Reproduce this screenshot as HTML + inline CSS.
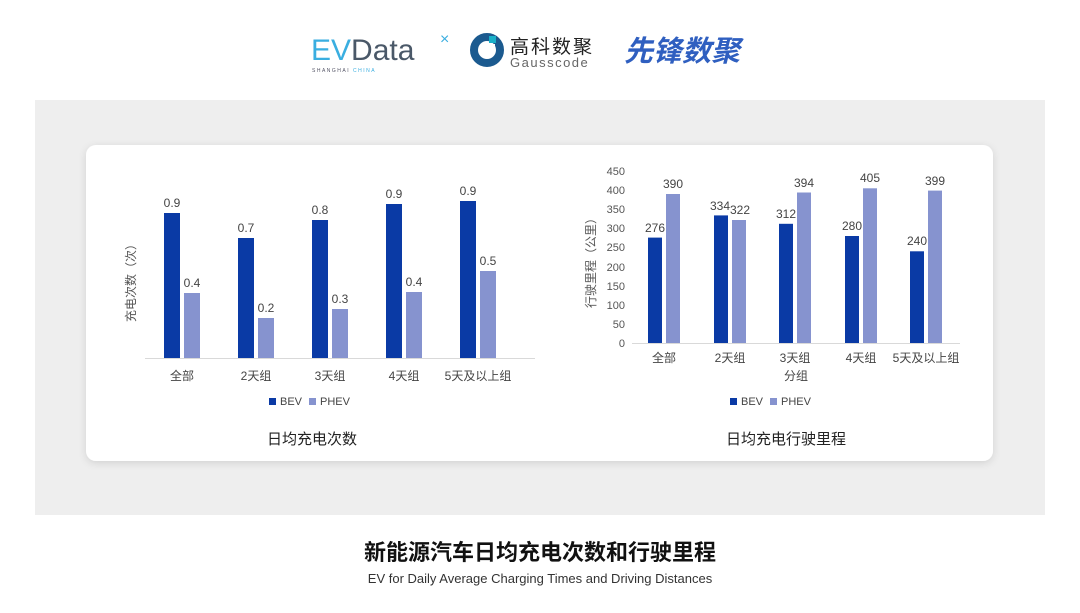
<!DOCTYPE html>
<html><head><meta charset="utf-8"><style>
body{margin:0;width:1080px;height:608px;background:#fff;overflow:hidden;font-family:"Liberation Sans","Noto Sans CJK SC",sans-serif}
</style></head><body>
<svg width="1080" height="608" xmlns="http://www.w3.org/2000/svg" font-family="Liberation Sans, Noto Sans CJK SC, sans-serif">
<defs><filter id="sh" x="-5%" y="-5%" width="110%" height="115%"><feDropShadow dx="0" dy="2" stdDeviation="4" flood-color="#000" flood-opacity="0.12"/></filter></defs>
<!-- logos -->
<text x="311" y="60" font-size="30" fill="#3aaee0" font-family="Liberation Sans, sans-serif">EV<tspan fill="#4a5868">Data</tspan></text>
<text x="440" y="44" font-size="16" fill="#3aaee0">×</text>
<text x="312" y="72" font-size="5" fill="#556" letter-spacing="1.5">SHANGHAI <tspan fill="#3aaee0">CHINA</tspan></text>
<circle cx="487" cy="50" r="13" fill="none" stroke="#1b5a8f" stroke-width="8"/>
<rect x="485" y="44" width="10" height="10" fill="#fff"/>
<rect x="489" y="36" width="7" height="7" fill="#19b0c8"/>
<text x="510" y="53" font-size="19" fill="#222" letter-spacing="2">高科数聚</text>
<text x="510" y="67" font-size="13" fill="#666" letter-spacing="1.5">Gausscode</text>
<text x="624" y="61" font-size="29" font-weight="bold" font-style="italic" fill="#2f5fc0">先锋数聚</text>
<!-- background -->
<rect x="35" y="100" width="1010" height="415" fill="#eeeeee"/>
<rect x="86" y="145" width="907" height="316" rx="10" fill="#fff" filter="url(#sh)"/>
<!-- left chart -->
<line x1="145" y1="358.5" x2="535" y2="358.5" stroke="#d9d9d9"/>
<g fill="#0a3aa5">
<rect x="164" y="213" width="16" height="145"/><rect x="238" y="238" width="16" height="120"/><rect x="312" y="220" width="16" height="138"/><rect x="386" y="204" width="16" height="154"/><rect x="460" y="201" width="16" height="157"/>
</g>
<g fill="#8693cf">
<rect x="184" y="293" width="16" height="65"/><rect x="258" y="318" width="16" height="40"/><rect x="332" y="309" width="16" height="49"/><rect x="406" y="292" width="16" height="66"/><rect x="480" y="271" width="16" height="87"/>
</g>
<g font-size="12" fill="#444" text-anchor="middle">
<text x="172" y="207">0.9</text><text x="246" y="232">0.7</text><text x="320" y="214">0.8</text><text x="394" y="198">0.9</text><text x="468" y="195">0.9</text>
<text x="192" y="287">0.4</text><text x="266" y="312">0.2</text><text x="340" y="303">0.3</text><text x="414" y="286">0.4</text><text x="488" y="265">0.5</text>
<text x="182" y="380">全部</text><text x="256" y="380">2天组</text><text x="330" y="380">3天组</text><text x="404" y="380">4天组</text><text x="478" y="380">5天及以上组</text>
</g>
<text transform="translate(135,280) rotate(-90)" font-size="12" fill="#555" text-anchor="middle">充电次数（次）</text>
<rect x="269" y="398" width="7" height="7" fill="#0a3aa5"/><text x="280" y="405" font-size="11" fill="#444">BEV</text>
<rect x="309" y="398" width="7" height="7" fill="#8693cf"/><text x="320" y="405" font-size="11" fill="#444">PHEV</text>
<text x="312" y="444" font-size="15" fill="#222" text-anchor="middle">日均充电次数</text>
<!-- right chart -->
<line x1="632" y1="343.5" x2="960" y2="343.5" stroke="#d9d9d9"/>
<g font-size="11" fill="#555" text-anchor="end">
<text x="625" y="347">0</text><text x="625" y="328">50</text><text x="625" y="309">100</text><text x="625" y="290">150</text><text x="625" y="271">200</text><text x="625" y="251">250</text><text x="625" y="232">300</text><text x="625" y="213">350</text><text x="625" y="194">400</text><text x="625" y="175">450</text>
</g>
<g fill="#0a3aa5">
<rect x="648" y="237.6" width="14" height="105.4"/><rect x="714" y="215.4" width="14" height="127.6"/><rect x="779" y="223.8" width="14" height="119.2"/><rect x="845" y="236" width="14" height="107"/><rect x="910" y="251.3" width="14" height="91.7"/>
</g>
<g fill="#8693cf">
<rect x="666" y="194" width="14" height="149"/><rect x="732" y="220" width="14" height="123"/><rect x="797" y="192.5" width="14" height="150.5"/><rect x="863" y="188.3" width="14" height="154.7"/><rect x="928" y="190.6" width="14" height="152.4"/>
</g>
<g font-size="12" fill="#444" text-anchor="middle">
<text x="655" y="232">276</text><text x="673" y="188">390</text>
<text x="720" y="210">334</text><text x="740" y="214">322</text>
<text x="786" y="218">312</text><text x="804" y="187">394</text>
<text x="852" y="230">280</text><text x="870" y="182">405</text>
<text x="917" y="245">240</text><text x="935" y="185">399</text>
<text x="664" y="362">全部</text><text x="730" y="362">2天组</text><text x="795" y="362">3天组</text><text x="861" y="362">4天组</text><text x="926" y="362">5天及以上组</text>
<text x="796" y="380">分组</text>
</g>
<text transform="translate(595,260) rotate(-90)" font-size="12" fill="#555" text-anchor="middle">行驶里程（公里）</text>
<rect x="730" y="398" width="7" height="7" fill="#0a3aa5"/><text x="741" y="405" font-size="11" fill="#444">BEV</text>
<rect x="770" y="398" width="7" height="7" fill="#8693cf"/><text x="781" y="405" font-size="11" fill="#444">PHEV</text>
<text x="786" y="444" font-size="15" fill="#222" text-anchor="middle">日均充电行驶里程</text>
<!-- title -->
<text x="540" y="560" font-size="22" font-weight="bold" fill="#111" text-anchor="middle">新能源汽车日均充电次数和行驶里程</text>
<text x="540" y="583" font-size="13" fill="#333" text-anchor="middle">EV for Daily Average Charging Times and Driving Distances</text>
</svg>
</body></html>
